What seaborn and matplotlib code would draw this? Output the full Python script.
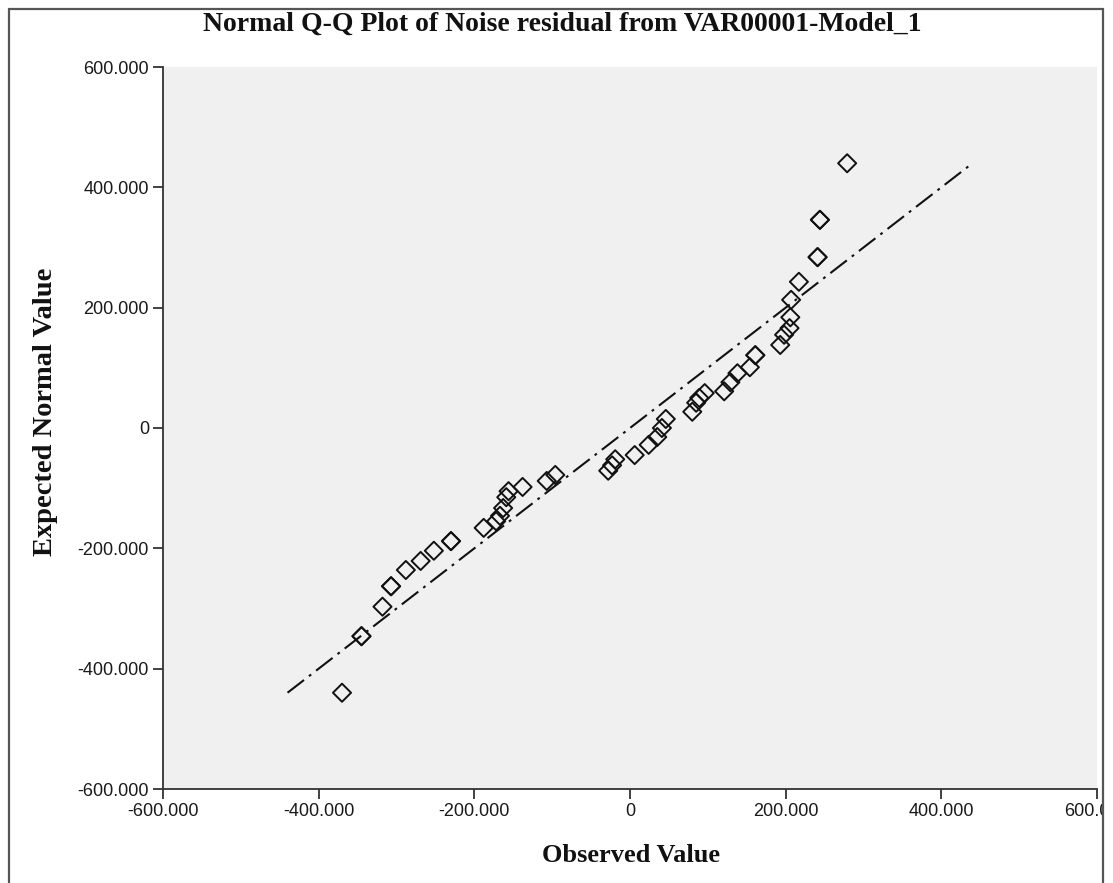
import matplotlib
matplotlib.use("Agg")
import matplotlib.pyplot as plt
from matplotlib.patches import Rectangle
from matplotlib.lines import Line2D
import numpy as np
import pandas as pd
import seaborn as sns

# Residual Q-Q data: observed residual vs. expected normal quantile
observed = [-370, -345, -345, -318, -307, -307, -288, -269, -252, -230, -230,
            -188, -172, -167, -163, -159, -156, -138, -107, -96,
            -28, -23, -19, 6, 24, 35, 41, 46,
            80, 85, 89, 96, 121, 129, 138, 154, 161, 161,
            193, 198, 205, 206, 207, 217, 241, 241, 244, 244, 279]
expected = [-440, -346, -346, -297, -263, -263, -236, -221, -204, -188, -188,
            -166, -155, -146, -133, -115, -105, -98, -88, -78,
            -71, -62, -52, -45, -28, -15, 0, 15,
            27, 42, 50, 58, 61, 76, 91, 101, 121, 121,
            138, 155, 166, 184, 213, 243, 284, 284, 346, 346, 440]

tick_values = [-600, -400, -200, 0, 200, 400, 600]
tick_labels = ["-600.000", "-400.000", "-200.000", "0", "200.000", "400.000", "600.000"]

title = "Normal Q-Q Plot of Noise residual from VAR00001-Model_1"
x_label = "Observed Value"
y_label = "Expected Normal Value"

sns.set_theme(style="ticks")
plt.rcParams["font.family"] = ["Liberation Sans", "DejaVu Sans"]
plt.rcParams["lines.scale_dashes"] = False

W, H = 1113, 883
fig = plt.figure(figsize=(W / 100, H / 100), dpi=100)
fig.patch.set_facecolor("white")


def fx(px):
    return px / W


def fy(py):
    return 1 - py / H


ax = fig.add_axes([fx(163), fy(789), fx(1097 - 163), (789 - 67) / H])
ax.set_facecolor("#F0F0F0")

df = pd.DataFrame({"observed": observed, "expected": expected})

# y = x reference line across the range of the expected values
lo, hi = min(expected), max(expected)
ref = pd.DataFrame({"x": [lo, hi], "y": [lo, hi]})
sns.lineplot(data=ref, x="x", y="y", ax=ax, color="#111111", linewidth=1.5,
             linestyle=(0, (15, 4.5, 2, 4.5)), zorder=2)

sns.scatterplot(data=df, x="observed", y="expected", ax=ax, marker="D", s=85,
                facecolors="none", edgecolor="#111111", linewidth=1.4, zorder=3)

ax.set_xlim(-600, 600)
ax.set_ylim(-600, 600)
ax.set_xticks(tick_values)
ax.set_xticklabels(tick_labels)
ax.set_yticks(tick_values)
ax.set_yticklabels(tick_labels)
ax.set_xlabel("")
ax.set_ylabel("")

for side in ("top", "right"):
    ax.spines[side].set_visible(False)
for side in ("left", "bottom"):
    ax.spines[side].set_color("#333333")
    ax.spines[side].set_linewidth(1.3)

ax.tick_params(axis="both", direction="out", length=7.5, width=1.3,
               color="#333333", labelsize=13, labelcolor="#1a1a1a", pad=2.5)

serif = ["Liberation Serif", "DejaVu Serif"]
fig.text(fx(562), fy(31), title, ha="center", va="baseline",
         family=serif, weight="bold", size=20, color="#111111")
fig.text(fx(631), fy(856), x_label, ha="center", va="center",
         family=serif, weight="bold", size=19, color="#111111")
fig.text(fx(46), fy(412), y_label, ha="center", va="center", rotation=90,
         family=serif, weight="bold", size=20.5, color="#111111")

# outer frame of the chart window
fig.add_artist(Rectangle((fx(1104), 0), fx(W - 1104), 1, transform=fig.transFigure,
                         facecolor="white", edgecolor="none", zorder=5))
frame_kw = dict(transform=fig.transFigure, color="#555555", linewidth=1.6, zorder=6)
fig.add_artist(Line2D([fx(9), fx(9)], [fy(9), 0], **frame_kw))
fig.add_artist(Line2D([fx(9), fx(1103)], [fy(9), fy(9)], **frame_kw))
fig.add_artist(Line2D([fx(1103), fx(1103)], [fy(9), 0], **frame_kw))

fig.savefig("out.png", dpi=100)
